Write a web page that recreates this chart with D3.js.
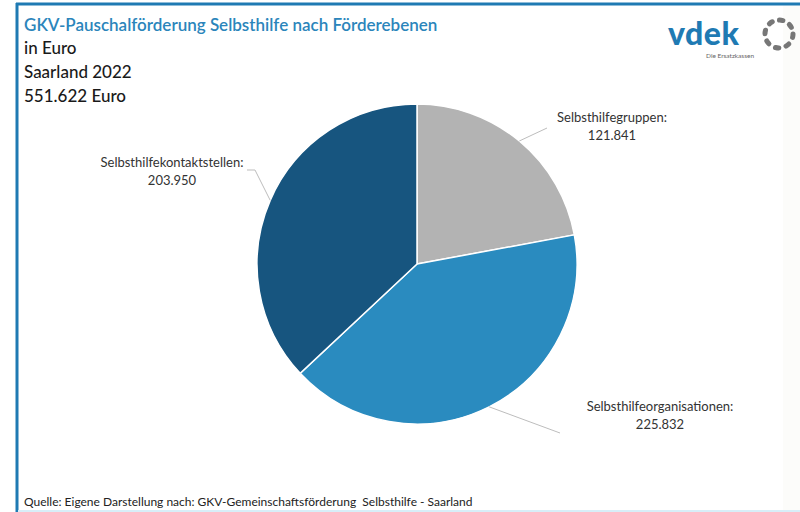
<!DOCTYPE html>
<html>
<head>
<meta charset="utf-8">
<script src="https://cdn.jsdelivr.net/npm/d3@7"></script>
<style>
  html, body { margin: 0; padding: 0; background: #fff; }
  svg { display: block; }
  text { font-family: Lato, "Open Sans", sans-serif; }
</style>
</head>
<body>
<svg width="800" height="512"></svg>
<script>
// data
var categories = ["Selbsthilfegruppen", "Selbsthilfeorganisationen", "Selbsthilfekontaktstellen"],
    values = [121841, 225832, 203950],
    colors = ["#b3b3b3", "#2a8bbf", "#17557f"],
    titleLines = ["in Euro", "Saarland 2022", "551.622 Euro"];

var svg = d3.select("svg"),
    width = 800,
    height = 512;

var de = d3.formatLocale({decimal: ",", thousands: ".", grouping: [3], currency: ["", " €"]}),
    fmt = de.format(",d");

// frame
svg.append("rect").attr("x", 783).attr("y", 5).attr("width", 17).attr("height", 507).attr("fill", "#fcfcfa");
svg.append("line").attr("x1", 16).attr("x2", 800).attr("y1", 4).attr("y2", 4)
    .attr("stroke", "#1f7ab3").attr("stroke-width", 3);
svg.append("line").attr("x1", 17).attr("x2", 17).attr("y1", 3).attr("y2", 512)
    .attr("stroke", "#1f7ab3").attr("stroke-width", 3);
svg.append("line").attr("x1", 18).attr("x2", 800).attr("y1", 511).attr("y2", 511)
    .attr("stroke", "#d8eef8").attr("stroke-width", 2);

// titles
svg.append("text").attr("x", 24).attr("y", 31)
    .attr("fill", "#2b85bb").attr("font-size", 17).attr("font-weight", 600)
    .text("GKV-Pauschalförderung Selbsthilfe nach Förderebenen");
svg.selectAll(".sub").data(titleLines).enter().append("text")
    .attr("class", "sub")
    .attr("x", 24).attr("y", function(d, i) { return 54 + i * 24; })
    .attr("fill", "#1a1a1a").attr("font-size", 17).attr("font-weight", 500)
    .text(function(d) { return d; });

// logo
var logo = svg.append("g");
logo.append("text").attr("x", 668).attr("y", 45)
    .attr("fill", "#1f7ab3").attr("font-size", 32).attr("font-weight", 900)
    .attr("font-family", "'DejaVu Sans', sans-serif").attr("letter-spacing", 0.5)
    .text("vdek");
logo.append("text").attr("x", 706).attr("y", 58)
    .attr("fill", "#666").attr("font-size", 6.5)
    .text("Die Ersatzkassen");
logo.append("circle").attr("cx", 779).attr("cy", 34).attr("r", 14)
    .attr("fill", "none").attr("stroke", "#777").attr("stroke-width", 5)
    .attr("stroke-dasharray", "3.5 7.5")
    .attr("stroke-linecap", "round");

// pie
var cx = 417, cy = 264, r = 160;
var pie = d3.pie().sort(null).value(function(d) { return d; });
var arc = d3.arc().innerRadius(0).outerRadius(r);
var arcs = pie(values);

var g = svg.append("g").attr("transform", "translate(" + cx + "," + cy + ")");
g.selectAll("path").data(arcs).enter().append("path")
    .attr("d", arc)
    .attr("fill", function(d, i) { return colors[i]; })
    .attr("stroke", "#fff").attr("stroke-width", 1.5);

// labels
var labelPos = [[612, 122], [660, 411], [172, 167]],
    lineEnd = [[547, 128], [560, 433], [247, 170]];

arcs.forEach(function(d, i) {
  var a = (d.startAngle + d.endAngle) / 2,
      x0 = cx + r * Math.sin(a),
      y0 = cy - r * Math.cos(a);
  var pts = i === 2 ? [[x0, y0], [lineEnd[i][0] + 8, lineEnd[i][1]], lineEnd[i]] : [[x0, y0], lineEnd[i]];
  svg.append("path").attr("d", d3.line()(pts))
      .attr("fill", "none").attr("stroke", "#bdbdbd").attr("stroke-width", 1);
  var t = svg.append("text").attr("text-anchor", "middle")
      .attr("fill", "#333").attr("font-size", 13);
  t.append("tspan").attr("x", labelPos[i][0]).attr("y", labelPos[i][1]).text(categories[i] + ":");
  t.append("tspan").attr("x", labelPos[i][0]).attr("y", labelPos[i][1] + 18).text(fmt(values[i]));
});

// source
svg.append("text").attr("x", 24).attr("y", 506)
    .attr("fill", "#222").attr("font-size", 12)
    .attr("xml:space", "preserve")
    .text("Quelle: Eigene Darstellung nach: GKV-Gemeinschaftsförderung  Selbsthilfe - Saarland");
</script>
</body>
</html>
